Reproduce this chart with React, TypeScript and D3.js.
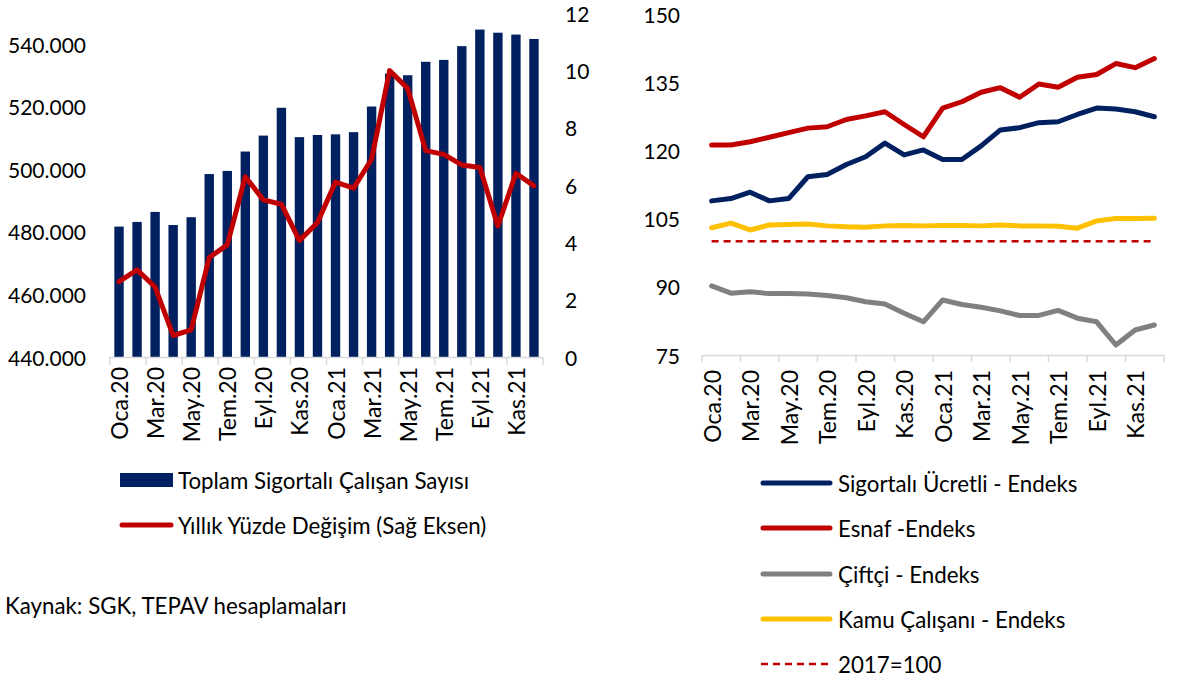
import React from "react";
import * as d3 from "d3";

const months: string[] = [
  "Oca.20", "Şub.20", "Mar.20", "Nis.20", "May.20", "Haz.20", "Tem.20", "Ağu.20", "Eyl.20", "Eki.20", "Kas.20", "Ara.20",
  "Oca.21", "Şub.21", "Mar.21", "Nis.21", "May.21", "Haz.21", "Tem.21", "Ağu.21", "Eyl.21", "Eki.21", "Kas.21", "Ara.21",
];

const totalInsured: number[] = [
  481700, 483200, 486400, 482200, 484700, 498500, 499500, 505700, 510800, 519700, 510300, 511000,
  511200, 511900, 520100, 530600, 530100, 534400, 535000, 539400, 544700, 543700, 543100, 541700,
];

const annualChange: number[] = [
  2.63, 3.04, 2.44, 0.75, 0.95, 3.47, 3.91, 6.29, 5.48, 5.33, 4.06, 4.69,
  6.10, 5.89, 6.90, 9.99, 9.37, 7.20, 7.07, 6.70, 6.61, 4.57, 6.41, 5.97,
];

const wageEarners: number[] = [
  108.9, 109.4, 110.8, 108.9, 109.4, 114.2, 114.7, 116.9, 118.6, 121.6, 119.0, 120.1,
  118.0, 118.0, 121.0, 124.5, 125.0, 126.1, 126.3, 127.9, 129.3, 129.1, 128.5, 127.4,
];

const selfEmployed: number[] = [
  121.2, 121.2, 121.9, 122.9, 123.9, 124.9, 125.2, 126.8, 127.6, 128.5, 125.7, 123.0,
  129.3, 130.7, 132.8, 133.8, 131.7, 134.6, 133.9, 136.1, 136.7, 139.1, 138.2, 140.2,
];

const farmers: number[] = [
  90.2, 88.6, 88.9, 88.5, 88.5, 88.4, 88.1, 87.6, 86.7, 86.2, 84.2, 82.3,
  87.1, 86.1, 85.5, 84.7, 83.7, 83.7, 84.8, 83.1, 82.3, 77.2, 80.5, 81.6,
];

const publicEmployees: number[] = [
  103.0, 104.0, 102.5, 103.6, 103.7, 103.8, 103.4, 103.2, 103.1, 103.4, 103.5, 103.4,
  103.5, 103.5, 103.4, 103.6, 103.4, 103.4, 103.3, 102.9, 104.5, 105.0, 105.0, 105.1,
];

const baseLevel: number[] = months.map(() => 100);

const leftTicks: number[] = [440000, 460000, 480000, 500000, 520000, 540000];
const rightTicks: number[] = [0, 2, 4, 6, 8, 10, 12];
const indexTicks: number[] = [75, 90, 105, 120, 135, 150];

const NAVY = "#002060";
const RED = "#C00000";
const GRAY = "#808080";
const YELLOW = "#FFC000";
const AXIS = "#D9D9D9";
const FONT = "Lato, 'Open Sans', sans-serif";
const FS = 21;
const FS_TXT = 22.3;
const FS_X = 23;

const fmtThousands = (v: number) => d3.format(",")(v).replace(/,/g, ".");

export default function App() {
  // Left chart
  const xL = d3.scaleBand<string>().domain(months).range([110, 543]).paddingInner(0.48).paddingOuter(0.24);
  const xLc = d3.scaleBand<string>().domain(months).range([110, 543]);
  const yL = d3.scaleLinear().domain([440000, 550000]).range([357, 13]);
  const yR = d3.scaleLinear().domain([0, 12]).range([357, 13]);
  const redLine = d3
    .line<number>()
    .x((_, i) => (xLc(months[i]) as number) + xLc.bandwidth() / 2)
    .y((d) => yR(d));

  // Right chart
  const x2 = d3.scaleBand<string>().domain(months).range([702, 1164]);
  const y2 = d3.scaleLinear().domain([75, 150]).range([355, 14]);
  const line2 = d3
    .line<number>()
    .x((_, i) => (x2(months[i]) as number) + x2.bandwidth() / 2)
    .y((d) => y2(d));

  const tickIdxL = months.map((_, i) => i).filter((i) => i % 2 === 0);

  const rightSeries = [
    { data: farmers, color: GRAY },
    { data: publicEmployees, color: YELLOW },
    { data: selfEmployed, color: RED },
    { data: wageEarners, color: NAVY },
  ];

  const legend2 = [
    { label: "Sigortalı Ücretli - Endeks", color: NAVY, dash: false },
    { label: "Esnaf -Endeks", color: RED, dash: false },
    { label: "Çiftçi - Endeks", color: GRAY, dash: false },
    { label: "Kamu Çalışanı - Endeks", color: YELLOW, dash: false },
    { label: "2017=100", color: RED, dash: true },
  ];
  const legendY = [483, 528, 574, 619, 664];

  return (
    <svg
      width={1184}
      height={677}
      style={{ position: "absolute", left: 0, top: 0, background: "#fff" }}
      fontFamily={FONT}
      fontSize={FS}
    >
      <rect x={0} y={0} width={1184} height={677} fill="#fff" />

      {/* ===== Left chart ===== */}
      {totalInsured.map((v, i) => (
        <rect
          key={"b" + i}
          x={xL(months[i])}
          y={yL(v)}
          width={xL.bandwidth()}
          height={yL(440000) - yL(v)}
          fill={NAVY}
        />
      ))}
      <line x1={110} x2={543} y1={357.5} y2={357.5} stroke={AXIS} strokeWidth={1.5} />
      {tickIdxL.map((i) => (
        <line
          key={"tl" + i}
          x1={xLc(months[i])}
          x2={xLc(months[i])}
          y1={357}
          y2={365}
          stroke={AXIS}
          strokeWidth={1.5}
        />
      ))}
      <line x1={543} x2={543} y1={357} y2={365} stroke={AXIS} strokeWidth={1.5} />
      <path d={redLine(annualChange) || ""} fill="none" stroke={RED} strokeWidth={5} strokeLinejoin="round" strokeLinecap="round" />

      {leftTicks.map((t) => (
        <text key={"ly" + t} x={86} y={yL(t)} textAnchor="end" dominantBaseline="central" fill="#000">
          {fmtThousands(t)}
        </text>
      ))}
      {rightTicks.map((t) => (
        <text key={"ry" + t} x={565} y={yR(t)} textAnchor="start" dominantBaseline="central" fill="#000">
          {t}
        </text>
      ))}
      {tickIdxL.map((i) => {
        const cx = (xLc(months[i]) as number) + xLc.bandwidth() / 2;
        return (
          <text
            key={"lx" + i}
            transform={`translate(${cx},367) rotate(-90)`}
            textAnchor="end"
            dominantBaseline="central"
            fill="#000"
            fontSize={FS_X}
          >
            {months[i]}
          </text>
        );
      })}

      {/* Left legend */}
      <rect x={120} y={473} width={53} height={14} fill={NAVY} />
      <text x={178} y={480} dominantBaseline="central" fill="#000" fontSize={FS_TXT}>Toplam Sigortalı Çalışan Sayısı</text>
      <line x1={122} x2={171} y1={525} y2={525} stroke={RED} strokeWidth={5} strokeLinecap="round" />
      <text x={178} y={525} dominantBaseline="central" fill="#000" fontSize={FS_TXT}>Yıllık Yüzde Değişim (Sağ Eksen)</text>

      <text x={5} y={605} dominantBaseline="central" fill="#000" fontSize={FS_TXT}>Kaynak: SGK, TEPAV hesaplamaları</text>

      {/* ===== Right chart ===== */}
      <line x1={702} x2={1164} y1={355.5} y2={355.5} stroke={AXIS} strokeWidth={1.5} />
      {tickIdxL.map((i) => (
        <line
          key={"tr" + i}
          x1={x2(months[i])}
          x2={x2(months[i])}
          y1={355}
          y2={362}
          stroke={AXIS}
          strokeWidth={1.5}
        />
      ))}
      <line x1={1164} x2={1164} y1={355} y2={362} stroke={AXIS} strokeWidth={1.5} />
      <path
        d={line2(baseLevel) || ""}
        fill="none"
        stroke={RED}
        strokeWidth={2.5}
        strokeDasharray="7 5"
      />
      {rightSeries.map((s, k) => (
        <path
          key={"s" + k}
          d={line2(s.data) || ""}
          fill="none"
          stroke={s.color}
          strokeWidth={5}
          strokeLinejoin="round"
          strokeLinecap="round"
        />
      ))}
      {indexTicks.map((t) => (
        <text key={"iy" + t} x={680} y={y2(t)} textAnchor="end" dominantBaseline="central" fill="#000">
          {t}
        </text>
      ))}
      {tickIdxL.map((i) => {
        const cx = (x2(months[i]) as number) + x2.bandwidth() / 2;
        return (
          <text
            key={"rx" + i}
            transform={`translate(${cx},370) rotate(-90)`}
            textAnchor="end"
            dominantBaseline="central"
            fill="#000"
            fontSize={FS_X}
          >
            {months[i]}
          </text>
        );
      })}

      {/* Right legend */}
      {legend2.map((l, k) => (
        <g key={"lg" + k}>
          <line
            x1={l.dash ? 761 : 763}
            x2={l.dash ? 831 : 830}
            y1={legendY[k]}
            y2={legendY[k]}
            stroke={l.color}
            strokeWidth={l.dash ? 2.5 : 5}
            strokeLinecap={l.dash ? "butt" : "round"}
            strokeDasharray={l.dash ? "7 5" : undefined}
          />
          <text x={838} y={legendY[k]} dominantBaseline="central" fill="#000" fontSize={FS_TXT}>
            {l.label}
          </text>
        </g>
      ))}
    </svg>
  );
}
